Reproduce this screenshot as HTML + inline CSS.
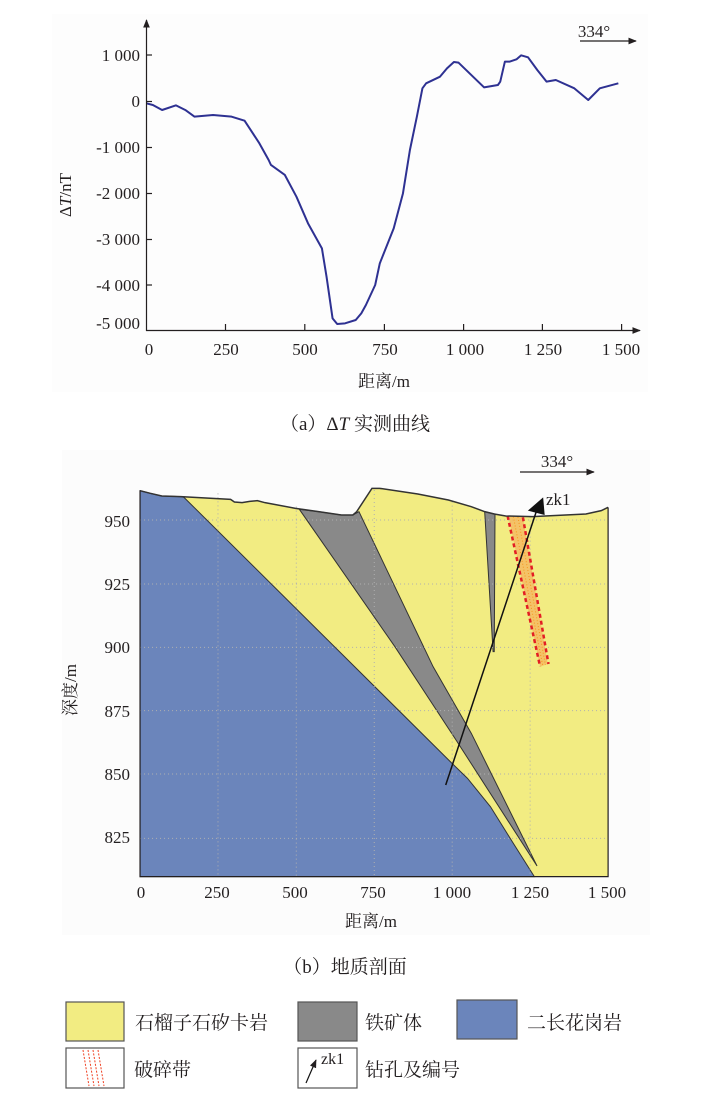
<!DOCTYPE html>
<html><head><meta charset="utf-8"><style>
html,body{margin:0;padding:0;background:#fff;}
svg{display:block;}
text{font-family:"Liberation Serif","Noto Serif CJK SC",serif;fill:#231f20;}
.cj{font-family:"Liberation Serif","Noto Serif CJK SC","Noto Sans CJK SC",serif;}
</style></head><body>
<svg width="719" height="1097" viewBox="0 0 719 1097" xmlns="http://www.w3.org/2000/svg">
<defs>
<marker id="ar" viewBox="0 0 10 10" refX="9" refY="5" markerWidth="7" markerHeight="7" orient="auto"><path d="M0,1 L10,5 L0,9 z" fill="#231f20"/></marker>
</defs>
<rect x="52" y="14" width="596" height="378" fill="#fdfdfd"/>
<rect x="62" y="450" width="588" height="485" fill="#fcfcfc"/>

<!-- Chart a -->
<g transform="scale(0.46318,0.33333)">
<polyline vector-effect="non-scaling-stroke" fill="none" stroke="#2e3192" stroke-width="2" stroke-linejoin="round"
points="316,310 330,315 350,330 380,316 400,330 420,350 460,345 500,350 528,362 560,430 580,480 585,495 615,525 640,590 665,670 695,745 705,830 718,955 728,972 745,970 768,960 780,940 790,915 810,855 820,790 850,685 870,580 885,450 900,350 912,265 920,250 950,230 965,205 980,186 990,188 1045,262 1075,255 1080,245 1090,185 1100,185 1115,178 1125,166 1140,172 1160,210 1180,245 1200,240 1240,265 1270,300 1295,265 1335,250"/>
</g>
<line x1="146.5" y1="331" x2="146.5" y2="20" stroke="#231f20" stroke-width="1.2" marker-end="url(#ar)"/>
<line x1="146" y1="330.5" x2="640" y2="330.5" stroke="#231f20" stroke-width="1.2" marker-end="url(#ar)"/>
<g stroke="#231f20" stroke-width="1.2">
<line x1="146" y1="55" x2="152" y2="55"/><line x1="146" y1="101.5" x2="152" y2="101.5"/><line x1="146" y1="147.5" x2="152" y2="147.5"/><line x1="146" y1="193.5" x2="152" y2="193.5"/><line x1="146" y1="239.5" x2="152" y2="239.5"/><line x1="146" y1="285" x2="152" y2="285"/>
<line x1="225.5" y1="330" x2="225.5" y2="324"/><line x1="304.8" y1="330" x2="304.8" y2="324"/><line x1="384.4" y1="330" x2="384.4" y2="324"/><line x1="463.6" y1="330" x2="463.6" y2="324"/><line x1="542.4" y1="330" x2="542.4" y2="324"/><line x1="621.6" y1="330" x2="621.6" y2="324"/>
</g>
<g font-size="17" text-anchor="end">
<text x="140" y="61">1 000</text><text x="140" y="107">0</text><text x="140" y="153">-1 000</text><text x="140" y="199">-2 000</text><text x="140" y="245">-3 000</text><text x="140" y="291">-4 000</text><text x="140" y="329">-5 000</text>
</g>
<g font-size="17" text-anchor="middle">
<text x="149" y="355">0</text><text x="226" y="355">250</text><text x="305" y="355">500</text><text x="385" y="355">750</text><text x="465" y="355">1 000</text><text x="543" y="355">1 250</text><text x="621" y="355">1 500</text>
</g>
<text class="cj" x="384" y="387" font-size="17" text-anchor="middle">距离/m</text>
<text x="71" y="195" font-size="17" text-anchor="middle" transform="rotate(-90 71 195)">Δ<tspan font-style="italic">T</tspan>/nT</text>
<text x="594" y="37" font-size="17" text-anchor="middle">334°</text>
<line x1="580" y1="41" x2="636" y2="41" stroke="#231f20" stroke-width="1.2" marker-end="url(#ar)"/>
<text class="cj" x="355" y="430" font-size="19" text-anchor="middle">（a）Δ<tspan font-style="italic">T</tspan> 实测曲线</text>

<!-- Chart b -->
<g transform="translate(51,440) scale(0.3821,0.33333)">
<polygon fill="#f2ec82" points="233,152 260,160 290,168 340,170 470,178 480,186 500,188 520,184 540,182 560,188 640,205 700,215 760,225 790,225 800,215 840,145 860,145 960,162 1040,180 1100,200 1135,215 1160,222 1190,228 1260,230 1400,222 1440,212 1458,202 1458,1310 233,1310"/>
<polygon fill="#6b85bb" stroke="#333" stroke-width="1" vector-effect="non-scaling-stroke" points="233,152 260,160 290,168 340,170 348,172 1045,965 1090,1015 1150,1100 1210,1210 1265,1310 233,1310"/>
<polygon fill="#898989" stroke="#333" stroke-width="1" vector-effect="non-scaling-stroke" points="650,208 700,215 760,225 790,225 806,215 1000,680 1100,880 1272,1278 1060,900 900,620"/>
<polygon fill="#898989" stroke="#333" stroke-width="1" vector-effect="non-scaling-stroke" points="1135,215 1162,222 1160,635 1157,635"/>
<g stroke="#b0b0b0" stroke-width="1" stroke-dasharray="1,3">
<line x1="437" y1="160" x2="437" y2="1310" vector-effect="non-scaling-stroke"/><line x1="642" y1="200" x2="642" y2="1310" vector-effect="non-scaling-stroke"/><line x1="846" y1="150" x2="846" y2="1310" vector-effect="non-scaling-stroke"/><line x1="1050" y1="185" x2="1050" y2="1310" vector-effect="non-scaling-stroke"/><line x1="1254" y1="230" x2="1254" y2="1310" vector-effect="non-scaling-stroke"/>
<line x1="233" y1="240" x2="1458" y2="240" vector-effect="non-scaling-stroke"/><line x1="233" y1="432" x2="1458" y2="432" vector-effect="non-scaling-stroke"/><line x1="233" y1="622" x2="1458" y2="622" vector-effect="non-scaling-stroke"/><line x1="233" y1="812" x2="1458" y2="812" vector-effect="non-scaling-stroke"/><line x1="233" y1="1002" x2="1458" y2="1002" vector-effect="non-scaling-stroke"/><line x1="233" y1="1195" x2="1458" y2="1195" vector-effect="non-scaling-stroke"/>
</g>
<polygon fill="#f4b860" opacity="0.8" points="1197,228 1235,232 1300,672 1280,680"/>
<g stroke="#e31e24" stroke-width="2.5" stroke-dasharray="4,3" fill="none">
<line x1="1195" y1="228" x2="1280" y2="680" vector-effect="non-scaling-stroke"/><line x1="1235" y1="232" x2="1302" y2="672" vector-effect="non-scaling-stroke"/>
</g>
<g stroke="#f7941d" stroke-width="1" stroke-dasharray="1,2">
<line x1="1210" y1="230" x2="1287" y2="677" vector-effect="non-scaling-stroke"/><line x1="1222" y1="231" x2="1294" y2="675" vector-effect="non-scaling-stroke"/>
</g>
<polyline fill="none" stroke="#333" stroke-width="1.5" vector-effect="non-scaling-stroke" points="233,152 260,160 290,168 340,170 470,178 480,186 500,188 520,184 540,182 560,188 640,205 700,215 760,225 790,225 800,215 840,145 860,145 960,162 1040,180 1100,200 1135,215 1160,222 1190,228 1260,230 1400,222 1440,212 1458,202"/>
<polyline fill="none" stroke="#231f20" stroke-width="1.2" vector-effect="non-scaling-stroke" points="233,152 233,1310 1458,1310 1458,202"/>
<line x1="1033" y1="1035" x2="1270" y2="215" stroke="#111" stroke-width="1.5" vector-effect="non-scaling-stroke"/>
<polygon fill="#111" points="1288,172 1292,225 1248,212"/>
</g>
<g font-size="17" text-anchor="end">
<text x="130" y="527">950</text><text x="130" y="590">925</text><text x="130" y="653">900</text><text x="130" y="717">875</text><text x="130" y="780">850</text><text x="130" y="843">825</text>
</g>
<g font-size="17" text-anchor="middle">
<text x="141" y="898">0</text><text x="217" y="898">250</text><text x="295" y="898">500</text><text x="373" y="898">750</text><text x="452" y="898">1 000</text><text x="530" y="898">1 250</text><text x="607" y="898">1 500</text>
</g>
<text class="cj" x="371" y="927" font-size="17" text-anchor="middle">距离/m</text>
<text class="cj" x="76" y="690" font-size="17" text-anchor="middle" transform="rotate(-90 76 690)">深度/m</text>
<text x="557" y="467" font-size="17" text-anchor="middle">334°</text>
<line x1="520" y1="472" x2="594" y2="472" stroke="#231f20" stroke-width="1.2" marker-end="url(#ar)"/>
<text x="546" y="505" font-size="17">zk1</text>
<text class="cj" x="345" y="973" font-size="19" text-anchor="middle">（b）地质剖面</text>

<!-- Legend -->
<g stroke="#555" stroke-width="1.2">
<rect x="66" y="1002" width="58" height="39" fill="#f2ec82"/>
<rect x="298" y="1002" width="59" height="39" fill="#898989"/>
<rect x="457" y="1000" width="60" height="39" fill="#6b85bb"/>
<rect x="66" y="1048" width="58" height="40" fill="#fff"/>
<rect x="298" y="1048" width="59" height="40" fill="#fff"/>
</g>
<g stroke="#ef4123" stroke-width="1" stroke-dasharray="2,1.5">
<line x1="83" y1="1050" x2="89" y2="1086"/><line x1="88" y1="1050" x2="94" y2="1086"/><line x1="93" y1="1050" x2="99" y2="1086"/><line x1="98" y1="1050" x2="104" y2="1086"/>
</g>
<line x1="306" y1="1083" x2="316" y2="1060" stroke="#111" stroke-width="1.2" marker-end="url(#ar)"/>
<text x="321" y="1064" font-size="16">zk1</text>
<g font-size="19">
<text class="cj" x="135" y="1029">石榴子石矽卡岩</text>
<text class="cj" x="365" y="1029">铁矿体</text>
<text class="cj" x="527" y="1029">二长花岗岩</text>
<text class="cj" x="134" y="1076">破碎带</text>
<text class="cj" x="365" y="1076">钻孔及编号</text>
</g>
</svg>
</body></html>
